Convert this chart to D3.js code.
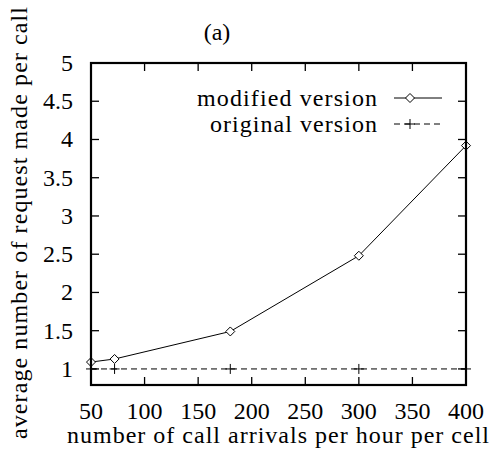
<!DOCTYPE html>
<html>
<head>
<meta charset="utf-8">
<script src="https://cdn.jsdelivr.net/npm/d3@7"></script>
<style>
  body { margin: 0; background: #fff; }
</style>
</head>
<body>
<svg id="chart" width="493" height="458"></svg>
<script>
// data
const arrivals = [50, 72, 180, 300, 400];
const modified = [1.09, 1.13, 1.49, 2.48, 3.92];
const original = [1, 1, 1, 1, 1];
const xTicks = [50, 100, 150, 200, 250, 300, 350, 400];
const yTicks = [1, 1.5, 2, 2.5, 3, 3.5, 4, 4.5, 5];
const seriesNames = ["modified version", "original version"];

const svg = d3.select("#chart");
const plotL = 91, plotR = 466, plotT = 63, plotB = 385;

let x = d3.scaleLinear().domain([50, 400]).range([plotL, plotR]);
let y = d3.scaleLinear().domain([0.79, 5]).range([plotB, plotT]);

const fs = 24;
const label = sel => sel.attr("font-family", "Liberation Serif").attr("font-size", fs).attr("fill", "#000");

// ticks on all four sides, pointing in
let tickLen = 8;
let axes = svg.append("g").attr("stroke", "#000").attr("stroke-width", 1.3);
xTicks.slice(1, -1).forEach(t => {
  axes.append("line").attr("x1", x(t)).attr("x2", x(t)).attr("y1", plotB).attr("y2", plotB - tickLen);
  axes.append("line").attr("x1", x(t)).attr("x2", x(t)).attr("y1", plotT).attr("y2", plotT + tickLen);
});
yTicks.slice(0, -1).forEach(t => {
  axes.append("line").attr("x1", plotL).attr("x2", plotL + tickLen).attr("y1", y(t)).attr("y2", y(t));
  axes.append("line").attr("x1", plotR).attr("x2", plotR - tickLen).attr("y1", y(t)).attr("y2", y(t));
});

// tick labels
svg.selectAll(".xl").data(xTicks).enter().append("text")
    .call(label)
    .attr("x", d => x(d)).attr("y", 419)
    .attr("text-anchor", "middle")
    .text(d => d);
svg.selectAll(".yl").data(yTicks).enter().append("text")
    .call(label)
    .attr("x", 73).attr("y", d => y(d) + 8)
    .attr("text-anchor", "end")
    .text(d => d);

// axis titles (computer modern runs wider than times, so stretch a little)
svg.append("text").call(label)
    .attr("x", 278).attr("y", 443)
    .attr("text-anchor", "middle")
    .attr("textLength", 422).attr("lengthAdjust", "spacing")
    .text("number of call arrivals per hour per cell");
svg.append("text").call(label)
    .attr("transform", `translate(27, 223) rotate(-90)`)
    .attr("text-anchor", "middle")
    .attr("textLength", 432).attr("lengthAdjust", "spacing")
    .text("average number of request made per call");
svg.append("text").call(label)
    .attr("x", 217).attr("y", 40)
    .attr("text-anchor", "middle")
    .text("(a)");

// series
let line = d3.line().x(d => x(d[0])).y(d => y(d[1]));
let modPts = arrivals.map((a, i) => [a, modified[i]]);
let origPts = arrivals.map((a, i) => [a, original[i]]);

svg.append("path").attr("d", line(origPts))
    .attr("fill", "none").attr("stroke", "#000").attr("stroke-width", 1)
    .attr("stroke-dasharray", "6,4");
svg.append("path").attr("d", line(modPts))
    .attr("fill", "none").attr("stroke", "#000").attr("stroke-width", 1);

const diamond = (cx, cy, r) => `M${cx},${cy - r}L${cx + r},${cy}L${cx},${cy + r}L${cx - r},${cy}Z`;
const plus = (cx, cy, r) => `M${cx - r},${cy}H${cx + r}M${cx},${cy - r}V${cy + r}`;

svg.selectAll(".pm").data(origPts).enter().append("path")
    .attr("d", d => plus(x(d[0]), y(d[1]), 5))
    .attr("stroke", "#000").attr("stroke-width", 1).attr("fill", "none");
svg.selectAll(".dm").data(modPts).enter().append("path")
    .attr("d", d => diamond(x(d[0]), y(d[1]), 4.5))
    .attr("stroke", "#000").attr("stroke-width", 1).attr("fill", "#fff");

// legend
let ly = [98, 124];
let legendW = [180, 167];
seriesNames.forEach((name, i) => {
  svg.append("text").call(label).attr("x", 377).attr("y", ly[i] + 8)
      .attr("text-anchor", "end")
      .attr("textLength", legendW[i]).attr("lengthAdjust", "spacing")
      .text(name);
  svg.append("line").attr("x1", 394).attr("x2", 442).attr("y1", ly[i]).attr("y2", ly[i])
      .attr("stroke", "#000").attr("stroke-width", 1)
      .attr("stroke-dasharray", i === 1 ? "6,4" : null);
  svg.append("path")
      .attr("d", i === 0 ? diamond(410, ly[i], 4.5) : plus(410, ly[i], 5))
      .attr("stroke", "#000").attr("stroke-width", 1).attr("fill", i === 0 ? "#fff" : "none");
});

// border
svg.append("rect").attr("x", plotL).attr("y", plotT)
    .attr("width", plotR - plotL).attr("height", plotB - plotT)
    .attr("fill", "none").attr("stroke", "#000").attr("stroke-width", 2.2);
</script>
</body>
</html>
